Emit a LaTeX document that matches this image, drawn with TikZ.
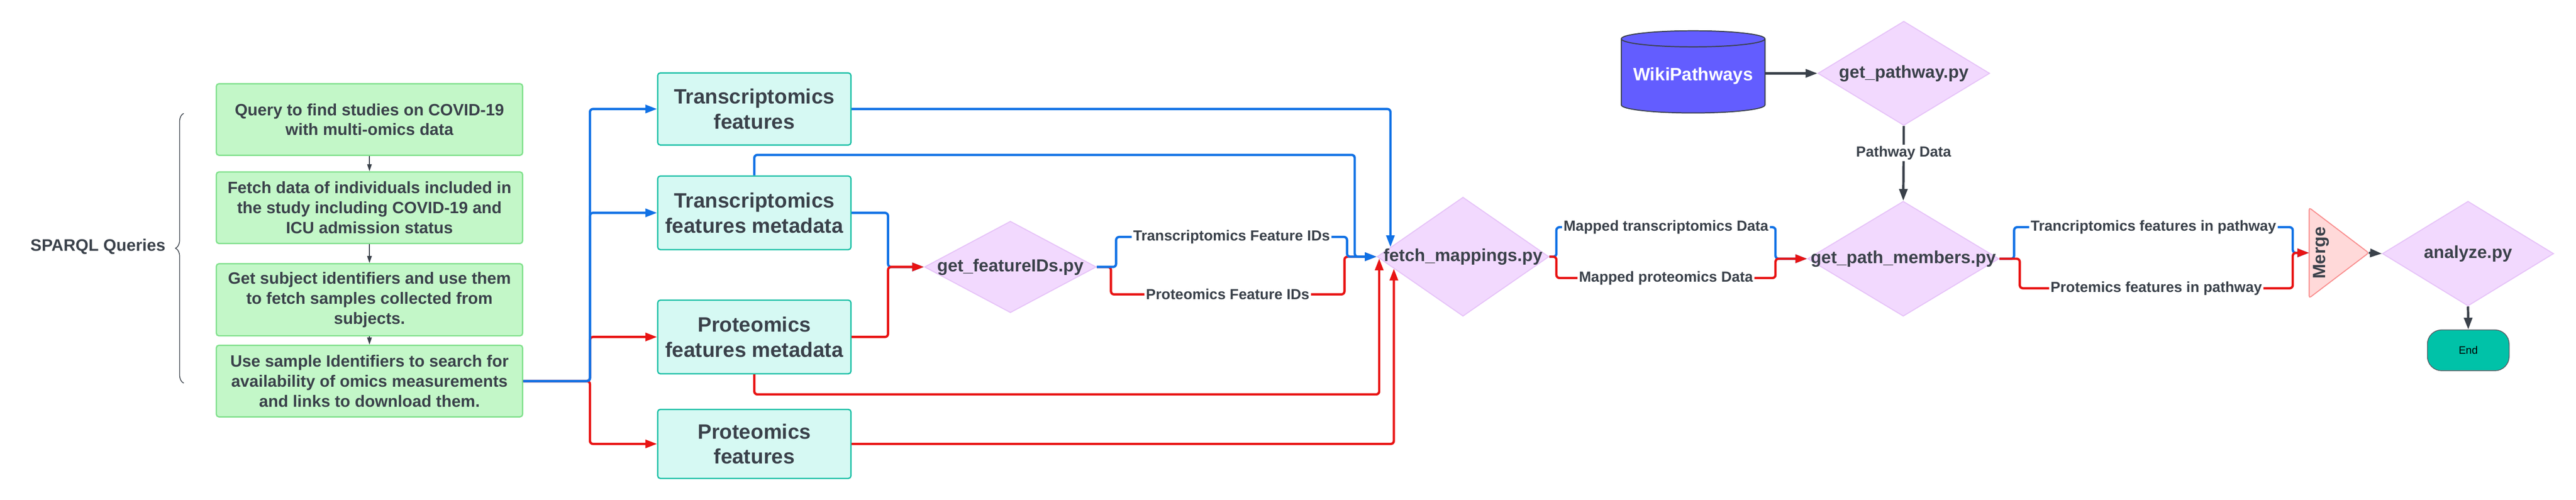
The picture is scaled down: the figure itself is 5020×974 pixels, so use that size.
\documentclass[tikz,border=0pt]{standalone}
\usepackage{fontspec}
\setmainfont{Liberation Sans}
\usetikzlibrary{arrows.meta, shapes, positioning, calc, decorations.pathreplacing}

\definecolor{inkgray}{HTML}{3A414A}
\definecolor{wireblue}{HTML}{1071E5}
\definecolor{wirered}{HTML}{E81313}
\definecolor{queryfill}{HTML}{C3F7C8}
\definecolor{queryline}{HTML}{7EE08A}
\definecolor{featfill}{HTML}{D6F9F3}
\definecolor{featline}{HTML}{19BFA5}
\definecolor{pyfill}{HTML}{F2D9FE}
\definecolor{pyline}{HTML}{E6C3F8}
\definecolor{dbfill}{HTML}{635DFF}
\definecolor{mergefill}{HTML}{FFD9D9}
\definecolor{mergeline}{HTML}{F98E8E}
\definecolor{endfill}{HTML}{00C2A8}

\newcommand{\zerowd}[1]{\makebox[0pt]{#1}}

\tikzset{
  querybox/.style={draw=queryline, fill=queryfill, line width=2.5pt, rounded corners=5pt,
    minimum width=599pt, minimum height=140pt, inner sep=0pt, align=center, text=inkgray,
    font=\bfseries\fontsize{32bp}{39bp}\selectfont},
  featbox/.style={draw=featline, fill=featfill, line width=2.5pt, rounded corners=5pt,
    minimum width=378pt, inner sep=0pt, align=center, text=inkgray,
    font=\bfseries\fontsize{40.5bp}{49bp}\selectfont},
  pybox/.style={diamond, draw=pyline, fill=pyfill, line width=2pt, inner sep=0pt,
    text=inkgray, font=\bfseries\fontsize{34bp}{41bp}\selectfont},
  dbshape/.style={cylinder, shape border rotate=90, aspect=0.135, draw=inkgray, fill=dbfill,
    line width=2pt, inner sep=0pt, text=white, font=\bfseries\fontsize{35bp}{42bp}\selectfont},
  wirelabel/.style={fill=white, inner sep=3pt, text=inkgray,
    font=\bfseries\fontsize{28.5bp}{34bp}\selectfont},
  bluewire/.style={draw=wireblue, line width=4.5pt, rounded corners=6pt},
  redwire/.style={draw=wirered, line width=4.5pt, rounded corners=6pt},
  darkwire/.style={draw=inkgray, line width=4.5pt},
  thinwire/.style={draw=inkgray, line width=1.5pt, -{Triangle[length=14pt,width=9pt]}},
  >={Triangle[length=23pt,width=16pt]},
}

\begin{document}
\begin{tikzpicture}[x=1bp, y=-1bp]
\useasboundingbox (0,0) rectangle (5020,974);

% SPARQL steps
\node[querybox] (q1) at (720,233) {Query to find studies on COVID-19\\with multi-omics data};
\node[querybox] (q2) at (720,405) {Fetch data of individuals included in\\the study including COVID-19 and\\ICU admission status};
\node[querybox, minimum height=141pt] (q3) at (720,584.5) {Get subject identifiers and use them\\to fetch samples collected from\\subjects.};
\node[querybox] (q4) at (720,743) {Use sample Identifiers to search for\\availability of omics measurements\\and links to download them.};
\draw[thinwire] (q1.south) -- (q2.north);
\draw[thinwire] (q2.south) -- (q3.north);
\draw[thinwire] (q3.south) -- (q4.north);

\draw[inkgray, line width=1.5pt, decorate, decoration={brace, amplitude=16pt}] (358,747) -- (358,221);
\node[anchor=east, text=inkgray, font=\bfseries\fontsize{32.5bp}{39bp}\selectfont] (sparql) at (326,481) {SPARQL Queries};

% omics tables
\node[featbox, minimum height=141pt] (tf) at (1470,212.5) {Transcriptomics\\features};
\node[featbox, minimum height=144pt] (tfm) at (1470,415) {Transcriptomics\\features metadata};
\node[featbox, minimum height=144pt] (pfm) at (1470,657) {Proteomics\\features metadata};
\node[featbox, minimum height=135pt] (pf) at (1470,865.5) {Proteomics\\features};

% scripts
\node[pybox, minimum width=336pt, minimum height=179pt] (gf) at (1969,520.5) {\zerowd{get\_featureIDs.py}};
\node[pybox, minimum width=336pt, minimum height=233pt] (fm) at (2851,500.5) {\zerowd{fetch\_mappings.py}};
\node[pybox, minimum width=336pt, minimum height=204pt] (gp) at (3710,143) {\zerowd{get\_pathway.py}};
\node[pybox, minimum width=374pt, minimum height=225pt] (gpm) at (3709,504.5) {\zerowd{get\_path\_members.py}};
\node[pybox, minimum width=335pt, minimum height=205pt] (an) at (4809.5,494.5) {\zerowd{analyze.py}};
\node[dbshape, minimum width=281pt, minimum height=161pt] (wiki) at (3299.5,148.5) {WikiPathways};

\draw[mergeline, fill=mergefill, line width=2pt, rounded corners=4pt] (4500,405) -- (4616,493) -- (4500,581) -- cycle;
\node[rotate=90, text=inkgray, font=\bfseries\fontsize{34.5bp}{40bp}\selectfont] (merge) at (4523,493) {Merge};
\coordinate (mergein) at (4500,493);
\coordinate (mergeout) at (4616,493);

\node[draw=inkgray!85, fill=endfill, line width=1.5pt, rounded corners=28pt, minimum width=160pt,
  minimum height=80pt, font=\fontsize{21bp}{25bp}\selectfont] (end) at (4810,683) {End};

\coordinate (fmtop) at ($(fm.west)!0.16!(fm.north)$);
\coordinate (fmlow1) at ($(fm.west)!0.03!(fm.south)$);
\coordinate (fmlow2) at ($(fm.west)!0.2!(fm.south)$);

% from the queries to the tables
\draw[redwire, ->] (q4.east) -- ++(130,0) |- (pfm.west);
\draw[redwire, ->] (q4.east) -- ++(130,0) |- (pf.west);
\draw[bluewire, ->] (q4.east) -- ++(130,0) |- (tf.west);
\draw[bluewire, ->] (q4.east) -- ++(130,0) |- (tfm.west);

% into get_featureIDs.py
\draw[bluewire, ->] (tfm.east) -- ++(71,0) |- (gf.west);
\draw[redwire, ->] (pfm.east) -- ++(71,0) |- (gf.west);

% into fetch_mappings.py
\draw[redwire, ->] (pfm.south) |- (fmlow1 |- 0,769) -- (fmlow1);
\draw[redwire, ->] (pf.east) -| (fmlow2);
\draw[redwire, ->] (gf.east) -| (2165,574) -- node[wirelabel]{Proteomics Feature IDs} (2620,574) |- (fm.west);
\draw[bluewire, ->] (gf.east) -| (2175,462) -- node[wirelabel]{Transcriptomics Feature IDs} (2625,462) |- (fm.west);
\draw[bluewire, ->] (tfm.north) |- (2640,302) |- (fm.west);
\draw[bluewire, ->] (tf.east) -| (fmtop);

% into get_path_members.py
\draw[bluewire, ->] (fm.east) -| (3033,443) -- node[wirelabel]{Mapped transcriptomics Data} (3460,443) |- (gpm.west);
\draw[redwire, ->] (fm.east) -| (3033,542) -- node[wirelabel]{Mapped proteomics Data} (3460,542) |- (gpm.west);
\draw[darkwire, ->] (wiki.east |- gp.west) -- (gp.west);
\draw[darkwire, ->] (gp.south) -- node[wirelabel, pos=0.36]{Pathway Data} (gpm.north);

% merge and analyze
\draw[bluewire, ->] (gpm.east) -| (3925,443) -- node[wirelabel]{Trancriptomics features in pathway} (4468,443) |- (mergein);
\draw[redwire, ->] (gpm.east) -| (3936,562) -- node[wirelabel]{Protemics features in pathway} (4468,562) |- (mergein);
\draw[darkwire, ->] (mergeout) -- (an.west);
\draw[darkwire, ->] (an.south) -- (end.north);
\end{tikzpicture}
\end{document}
